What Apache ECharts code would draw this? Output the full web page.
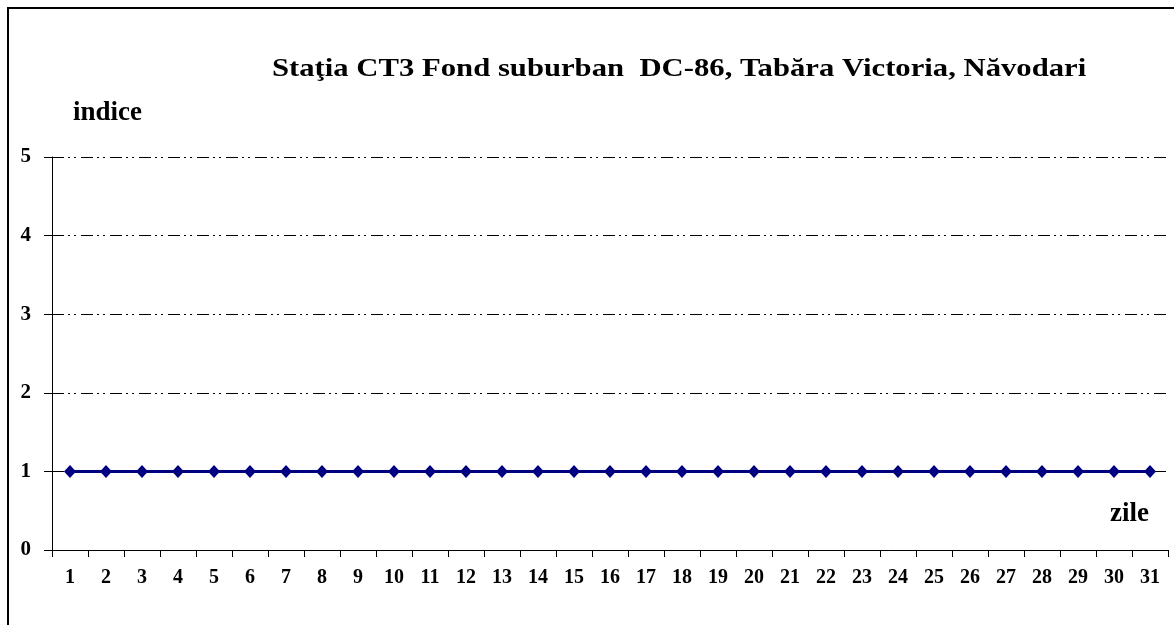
<!DOCTYPE html>
<html>
<head>
<meta charset="utf-8">
<script src="https://cdn.jsdelivr.net/npm/echarts@6/dist/echarts.min.js"></script>
<style>html,body{margin:0;padding:0;background:#fff}#c{width:1174px;height:625px}</style>
</head>
<body>
<div id="c"></div>
<script>
const titleText = 'Staţia CT3 Fond suburban  DC-86, Tabăra Victoria, Năvodari';
const yName = 'indice';
const xName = 'zile';
const days = ['1','2','3','4','5','6','7','8','9','10','11','12','13','14','15','16','17','18','19','20','21','22','23','24','25','26','27','28','29','30','31'];
const indice = [1,1,1,1,1,1,1,1,1,1,1,1,1,1,1,1,1,1,1,1,1,1,1,1,1,1,1,1,1,1,1];
const yTicks = [0,1,2,3,4,5];

const serif = '"Liberation Serif", "Times New Roman", serif';
const chart = echarts.init(document.getElementById('c'));
chart.setOption({
  animation: false,
  backgroundColor: '#fff',
  graphic: [
    {type:'rect', shape:{x:8,y:8,width:1200,height:700}, style:{fill:'none', stroke:'#000', lineWidth:2}, z:0},
    {type:'text', x:272, y:69, scaleX:1.18, style:{text:titleText, font:'bold 26px ' + serif, fill:'#000', verticalAlign:'middle', align:'left'}},
    {type:'text', x:73, y:113, style:{text:yName, font:'bold 27px ' + serif, fill:'#000', verticalAlign:'middle', align:'left'}},
    {type:'text', x:1110, y:514, style:{text:xName, font:'bold 27px ' + serif, fill:'#000', verticalAlign:'middle', align:'left'}}
  ],
  grid: {left:52, right:6, top:157, bottom:75, containLabel:false},
  xAxis: {
    type:'category', data: days, boundaryGap:true,
    axisLine:{lineStyle:{color:'#000', width:1}},
    axisTick:{show:true, inside:false, length:7, lineStyle:{color:'#000'}},
    axisLabel:{color:'#000', fontFamily:serif, fontWeight:'bold', fontSize:20, margin:18}
  },
  yAxis: {
    type:'value', min:0, max:5, interval:1,
    axisLine:{show:true, lineStyle:{color:'#000', width:1}},
    axisTick:{show:true, length:8, lineStyle:{color:'#000'}},
    axisLabel:{color:'#000', fontFamily:serif, fontWeight:'bold', fontSize:21, margin:21,
      formatter: v => yTicks.indexOf(v) >= 0 ? String(v) : ''},
    splitLine:{show:true, lineStyle:{color:'#000', width:1, type:[12,4,2,4,2,5]}}
  },
  series: [{
    type:'line', data: indice,
    symbol:'diamond', symbolSize:[12,13],
    lineStyle:{color:'#000080', width:3},
    itemStyle:{color:'#000080'}
  }]
});
</script>
</body>
</html>
